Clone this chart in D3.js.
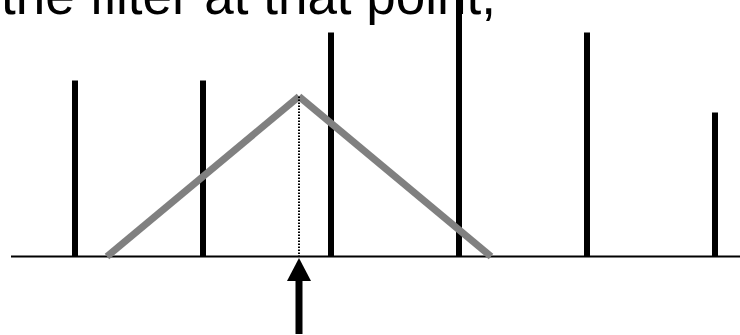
<!DOCTYPE html>
<html>
<head>
<meta charset="utf-8">
<script src="https://cdn.jsdelivr.net/npm/d3@7"></script>
<style>
  html, body { margin: 0; padding: 0; background: #fff; }
  svg { display: block; }
</style>
</head>
<body>
<svg id="chart" width="740" height="335"></svg>
<script>
// Sampled signal: one stem per sample
const sampleIndex  = [0, 1, 2, 3, 4, 5];
const sampleValues = [11, 11, 14, 17, 14, 9];

// Triangular (tent) filter placed between samples
const filterCenter    = [1.75];
const filterHalfWidth = [1.5];
const filterPeak      = [10];

const caption = ["the filter at that point,"];

const svg = d3.select("#chart");

const x = d3.scaleLinear().domain([0, 5]).range([75, 715]);
const y = d3.scaleLinear().domain([0, 10]).range([256.5, 96.5]);

// Caption text
svg.append("text")
  .attr("x", 1)
  .attr("y", 14)
  .attr("font-family", "'Liberation Sans', Arial, sans-serif")
  .attr("font-size", 53)
  .attr("fill", "#000")
  .text(caption[0]);

// Horizontal axis line
svg.append("line")
  .attr("x1", 11).attr("x2", 740)
  .attr("y1", y(0)).attr("y2", y(0))
  .attr("stroke", "#000").attr("stroke-width", 2);

// Stems
svg.append("g").selectAll("line")
  .data(sampleIndex)
  .join("line")
  .attr("x1", d => x(d)).attr("x2", d => x(d))
  .attr("y1", y(0)).attr("y2", (d, i) => y(sampleValues[i]))
  .attr("stroke", "#000").attr("stroke-width", 6);

// Filter: two sides of the tent drawn as separate segments
const c = filterCenter[0], hw = filterHalfWidth[0], pk = filterPeak[0];
const sides = [[c - hw, c], [c + hw, c]];
svg.append("g").selectAll("line")
  .data(sides)
  .join("line")
  .attr("x1", d => x(d[0])).attr("y1", y(0))
  .attr("x2", d => x(d[1])).attr("y2", y(pk))
  .attr("stroke", "#808080").attr("stroke-width", 7)
  .attr("stroke-linecap", "butt");

// Dotted drop line from the filter peak to the axis
svg.append("line")
  .attr("x1", x(c)).attr("x2", x(c))
  .attr("y1", y(pk)).attr("y2", y(0))
  .attr("stroke", "#000").attr("stroke-width", 2)
  .attr("stroke-dasharray", "1.5,1.5");

// Arrow pointing up at the filter position
const ax = x(c);
const tipY = y(0) + 1.5;
svg.append("rect")
  .attr("x", ax - 3.5).attr("y", tipY + 20)
  .attr("width", 7).attr("height", 335 - (tipY + 20) - 1)
  .attr("fill", "#000");
svg.append("path")
  .attr("d", `M${ax},${tipY} L${ax + 12},${tipY + 23} L${ax - 12},${tipY + 23} Z`)
  .attr("fill", "#000");
</script>
</body>
</html>
